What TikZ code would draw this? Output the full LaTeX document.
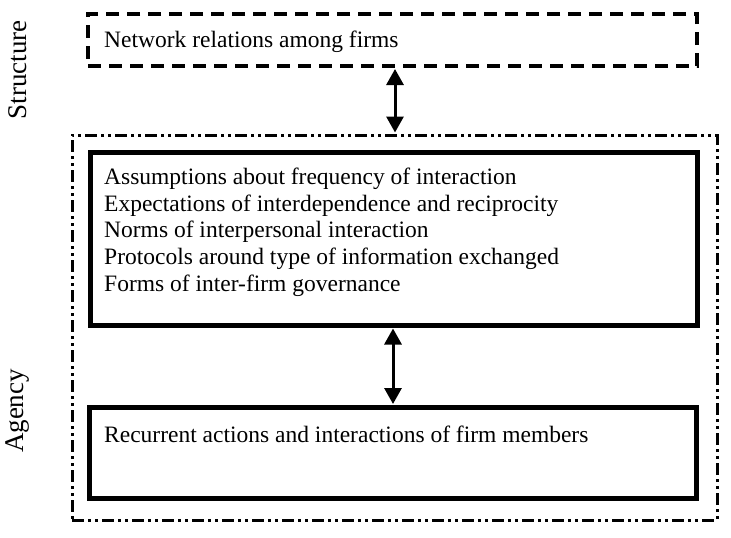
\documentclass[tikz,border=0pt]{standalone}
\usepackage{fontspec}
\setmainfont{Liberation Serif}
\usetikzlibrary{arrows.meta,positioning}

\begin{document}
\begin{tikzpicture}[
    x=1pt, y=-1pt,
    dashbox/.style={draw, line width=4pt, dash pattern=on 13pt off 8pt, minimum width=609pt, minimum height=52pt, inner sep=0pt},
    outerbox/.style={draw, line width=3pt, dash pattern=on 12pt off 4pt on 3pt off 4pt on 3pt off 4pt, minimum width=645pt, minimum height=385pt, inner sep=0pt},
    solidbox/.style={draw, line width=5pt, minimum width=607pt, inner sep=0pt},
    boxtext/.style={anchor=base west, inner sep=0pt, font=\fontsize{23.5}{27}\selectfont},
    sidelabel/.style={rotate=90, font=\fontsize{27}{30}\selectfont},
    link/.style={{Triangle[length=16pt,width=17pt]}-{Triangle[length=16pt,width=17pt]}, line width=3pt, shorten <=1pt, shorten >=1pt}
]
\useasboundingbox (0,0) rectangle (731,538);

% structure level
\node[dashbox] (network) at (392.5,40) {};
\node[boxtext] (networktext) at (104,47) {Network relations among firms};

% agency level
\node[outerbox] (agency) at (394.5,327.5) {};
\node[solidbox, minimum height=173pt] (norms) at (393.5,238.5) {};
\foreach \txt [count=\i] in {Assumptions about frequency of interaction,
    Expectations of interdependence and reciprocity,
    Norms of interpersonal interaction,
    Protocols around type of information exchanged,
    Forms of inter-firm governance}
  \node[boxtext] (normstext\i) at (104,157.5+26.75*\i) {\txt};
\node[solidbox, minimum height=91pt] (actions) at (392.5,453) {};
\node[boxtext] (actionstext) at (104,442) {Recurrent actions and interactions of firm members};

\coordinate (netbottom) at (network.south -| 395,0);
\coordinate (agencytop) at (agency.north -| 395,0);
\draw[link] (netbottom) -- (agencytop);
\coordinate (normsbottom) at (norms.south -| 393,0);
\coordinate (actionstop) at (actions.north -| 393,0);
\draw[link] (normsbottom) -- (actionstop);

\node[sidelabel] (structurelabel) at (18,70) {Structure};
\node[sidelabel] (agencylabel) at (18,411) {Agency};
\end{tikzpicture}
\end{document}
